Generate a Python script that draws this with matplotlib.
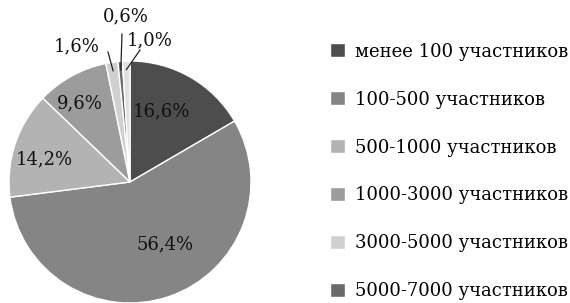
import numpy as np
import matplotlib
matplotlib.use("Agg")
import matplotlib.pyplot as plt

# data
categories = ["менее 100 участников", "100-500 участников", "500-1000 участников",
              "1000-3000 участников", "3000-5000 участников", "5000-7000 участников",
              "более 7000 участников"]
shares = [16.6, 56.4, 14.2, 9.6, 1.6, 0.6, 1.0]
value_labels = ["16,6%", "56,4%", "14,2%", "9,6%", "1,6%", "0,6%", "1,0%"]
legend_count = 6  # only six entries are visible in the original

# styles
colors = ["#4d4d4d", "#858585", "#b3b3b3", "#9c9c9c", "#d0d0d0", "#6a6a6a", "#e0e0e0"]
W, H = 570, 303
cx, cy, R = 130, 303 - 182, 121
# label positions in pixels (top-left origin), leader start
label_px = [(161, 111), (165, 244), (44, 159), (80, 103), (77, 46), (126, 16), (150, 40)]
leader_from = [None, None, None, None, (108, 52), (122, 34), (140, 50)]

plt.rcParams["font.family"] = ["DejaVu Serif"]

fig = plt.figure(figsize=(W / 100, H / 100), dpi=100)
ax = fig.add_axes([0, 0, 1, 1])
wedges, _ = ax.pie(shares, colors=colors, startangle=90, counterclock=False,
                   center=(cx, cy), radius=R,
                   wedgeprops=dict(edgecolor="white", linewidth=1.0))
ax.set_xlim(0, W)
ax.set_ylim(0, H)
ax.set_aspect("equal")
ax.axis("off")

for w, lab, (lx, ly), lf in zip(wedges, value_labels, label_px, leader_from):
    ax.text(lx, H - ly, lab, ha="center", va="center", fontsize=13, color="#111111")
    if lf is not None:
        mid = np.deg2rad((w.theta1 + w.theta2) / 2)
        ex, ey = cx + 0.93 * R * np.cos(mid), cy + 0.93 * R * np.sin(mid)
        ax.plot([lf[0], ex], [H - lf[1], ey], color="#222222", lw=0.9)

ax.legend(wedges[:legend_count], categories[:legend_count], loc="center left",
          bbox_to_anchor=(330 / W, 1 - 171.5 / H), frameon=False, fontsize=13,
          handlelength=0.83, handleheight=0.83, handletextpad=0.55,
          labelspacing=1.66, borderaxespad=0, borderpad=0)

fig.savefig("out.png", dpi=100)
